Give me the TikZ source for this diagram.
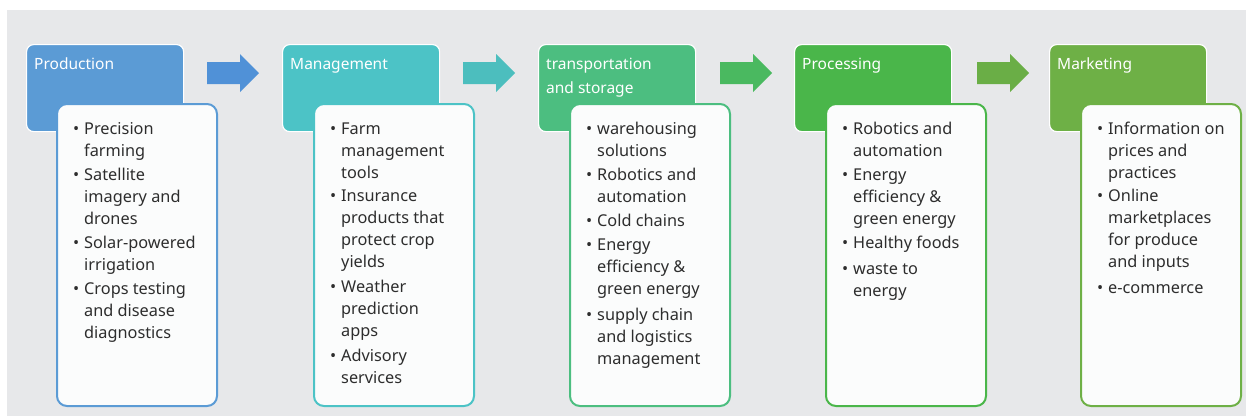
\documentclass[tikz,border=0pt]{standalone}
\usepackage{fontspec}
\setmainfont{Noto Sans}
\definecolor{bgc}{RGB}{231,232,234}
\definecolor{bodyfill}{RGB}{251,252,252}
\definecolor{txt}{RGB}{45,45,45}
\definecolor{c1}{RGB}{91,155,213}
\definecolor{a1}{RGB}{80,145,215}
\definecolor{c2}{RGB}{76,195,198}
\definecolor{a2}{RGB}{76,190,190}
\definecolor{c3}{RGB}{76,190,128}
\definecolor{a3}{RGB}{74,185,96}
\definecolor{c4}{RGB}{74,182,74}
\definecolor{a4}{RGB}{106,174,70}
\definecolor{c5}{RGB}{110,176,70}
\newcommand{\bi}{\makebox[11pt][l]{\textbullet}}
\newcommand{\ci}{\hspace*{11pt}}
\newcommand{\tp}{\vphantom{Ild}}
\tikzset{
  hdr/.style={fill=#1, draw=white, line width=1.2pt, rounded corners=7pt, minimum width=157pt, minimum height=87pt, anchor=north west, inner sep=0pt},
  bodybox/.style={draw=#1, line width=2pt, fill=bodyfill, rounded corners=10pt, minimum width=160pt, minimum height=302pt, anchor=north west, inner sep=0pt},
  htext/.style={anchor=north west, text=white, font=\fontsize{15.5}{24}\selectfont, align=left, inner sep=0pt},
  btext/.style={anchor=north west, text=txt, font=\fontsize{16.3}{22}\selectfont, align=left, inner sep=0pt},
}
\begin{document}
\begin{tikzpicture}[x=1pt,y=-1pt]
\useasboundingbox (0,0) rectangle (1246,416);
\fill[bgc] (7,10) rectangle (1246,416);
% block arrows
\foreach \x/\c in {207/a1,463/a2,720/a3,977/a4}{
  \fill[\c] (\x,62) -- (\x+33,62) -- (\x+33,54) -- (\x+52,73) -- (\x+33,92) -- (\x+33,84) -- (\x,84) -- cycle;
}
% headers
\node[hdr=c1] (h1) at (26,44) {};
\node[hdr=c2] (h2) at (282,44) {};
\node[hdr=c3] (h3) at (538,44) {};
\node[hdr=c4] (h4) at (794,44) {};
\node[hdr=c5] (h5) at (1049,44) {};
\node[htext] (t1) at (34,57.5) {\tp Production};
\node[htext] (t2) at (290,57.5) {\tp Management};
\node[htext] (t3) at (546,57.5) {\tp transportation\\and storage};
\node[htext] (t4) at (802,57.5) {\tp Processing};
\node[htext] (t5) at (1057,57.5) {\tp Marketing};
% bodies
\node[bodybox=c1] (b1) at (56,103) {};
\node[bodybox=c2] (b2) at (313,103) {};
\node[bodybox=c3] (b3) at (569,103) {};
\node[bodybox=c4] (b4) at (825,103) {};
\node[bodybox=c5] (b5) at (1080,103) {};
\node[btext] (l1) at (73,122) {\tp\bi Precision\\\ci farming\\[2pt]
\bi Satellite\\\ci imagery and\\\ci drones\\[2pt]
\bi Solar-powered\\\ci irrigation\\[2pt]
\bi Crops testing\\\ci and disease\\\ci diagnostics};
\node[btext] (l2) at (330,122) {\tp\bi Farm\\\ci management\\\ci tools\\[1pt]
\bi Insurance\\\ci products that\\\ci protect crop\\\ci yields\\[3pt]
\bi Weather\\\ci prediction\\\ci apps\\[3pt]
\bi Advisory\\\ci services};
\node[btext] (l3) at (586,122) {\tp\bi warehousing\\\ci solutions\\[2pt]
\bi Robotics and\\\ci automation\\[2pt]
\bi Cold chains\\[2pt]
\bi Energy\\\ci efficiency \&\\\ci green energy\\[4pt]
\bi supply chain\\\ci and logistics\\\ci management};
\node[btext] (l4) at (842,122) {\tp\bi Robotics and\\\ci automation\\[2pt]
\bi Energy\\\ci efficiency \&\\\ci green energy\\[2pt]
\bi Healthy foods\\[4pt]
\bi waste to\\\ci energy};
\node[btext] (l5) at (1097,122) {\tp\bi Information on\\\ci prices and\\\ci practices\\[1pt]
\bi Online\\\ci marketplaces\\\ci for produce\\\ci and inputs\\[4pt]
\bi e-commerce};
\end{tikzpicture}
\end{document}
